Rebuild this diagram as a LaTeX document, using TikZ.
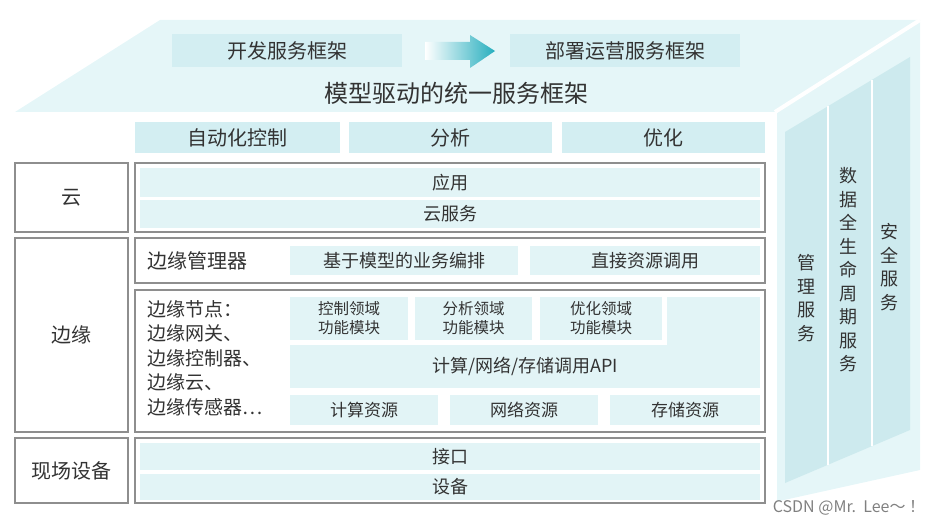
\documentclass[tikz,border=0pt]{standalone}
\usepackage{fontspec}
\setmainfont{Noto Sans CJK SC}
\usetikzlibrary{positioning}

\definecolor{cyanface}{HTML}{E5F6F8}
\definecolor{cyanbox}{HTML}{D3EEF2}
\definecolor{cyanband}{HTML}{E2F4F6}
\definecolor{cyanpanel}{HTML}{CDEAEE}
\definecolor{framegray}{HTML}{8E8E8E}
\definecolor{txtgray}{HTML}{333333}
\definecolor{arrowteal}{HTML}{26AEBE}

\tikzset{
  topbox/.style={fill=cyanbox, text=txtgray, inner sep=0pt, font=\fontsize{20}{24}\selectfont},
  layerbox/.style={draw=framegray, line width=1.3pt, fill=white, text=txtgray, inner sep=0pt, font=\fontsize{20}{24}\selectfont},
  framebox/.style={draw=framegray, line width=1.3pt, fill=white, inner sep=0pt},
  bandbox/.style={fill=cyanband, text=txtgray, inner sep=0pt, font=\fontsize{18}{21}\selectfont},
  modbox/.style={fill=cyanband, text=txtgray, inner sep=0pt, align=center, font=\fontsize{15.5}{19}\selectfont},
  vtext/.style={text=txtgray, align=center, inner sep=0pt, font=\fontsize{18}{23.5}\selectfont}
}

\begin{document}
\begin{tikzpicture}[x=1pt, y=-1pt]
    % Limites del dibujo
    \useasboundingbox (0,0) rectangle (948,524);

    % Cara superior del bloque
    \fill[cyanface] (160,20) -- (920,20) -- (775,112) -- (15,112) -- cycle;

    % Cara lateral derecha
    \fill[cyanface] (775,112) -- (920,20) -- (920,470) -- (775,502) -- cycle;
    \fill[cyanpanel] (785,132) -- (910,57) -- (910,430) -- (785,483) -- cycle;
    \coordinate (S1) at (828,106);
    \coordinate (S2) at (872,80);
    \draw[white, line width=1.5pt] (S1) -- (828,465);
    \draw[white, line width=1.5pt] (S2) -- (872,446);
    \draw[white, line width=4pt] (775,112) -- (920,20);
    \draw[white, line width=4pt] (775,112) -- (775,505);

    % Servicios verticales
    \node[vtext] (gl) at (806,298) {管\\理\\服\\务};
    \node[vtext] (sj) at (848,270) {数\\据\\全\\生\\命\\周\\期\\服\\务};
    \node[vtext] (aq) at (889,267) {安\\全\\服\\务};

    % Marcos de servicio en la cara superior
    \node[topbox, minimum width=230pt, minimum height=33pt] (kf) at (287,51) {开发服务框架};
    \node[topbox, minimum width=230pt, minimum height=33pt] (bs) at (625,51) {部署运营服务框架};
    \shade[left color=white, right color=arrowteal]
        (425,42) -- (470,42) -- (470,35) -- (495,51) -- (470,68) -- (470,60) -- (425,60) -- cycle;
    \node[text=txtgray, inner sep=0pt, font=\fontsize{24}{28}\selectfont] (mx) at (456,93) {模型驱动的统一服务框架};

    % Funciones
    \node[topbox, minimum width=205pt, minimum height=31pt] (zd) at (237.5,137.5) {自动化控制};
    \node[topbox, minimum width=203pt, minimum height=31pt] (fx) at (450.5,137.5) {分析};
    \node[topbox, minimum width=203pt, minimum height=31pt] (yh) at (663.5,137.5) {优化};

    % Capas a la izquierda
    \node[layerbox, minimum width=113pt, minimum height=69pt] (yun) at (71.5,197.5) {云};
    \node[layerbox, minimum width=113pt, minimum height=194pt] (by) at (71.5,335) {边缘};
    \node[layerbox, minimum width=113pt, minimum height=65pt] (xc) at (71.5,470.5) {现场设备};

    % Capa nube
    \node[framebox, minimum width=630pt, minimum height=69pt] (yunF) at (450,197.5) {};
    \node[bandbox, minimum width=620pt, minimum height=29pt] (yy) at (450,182.5) {应用};
    \node[bandbox, minimum width=620pt, minimum height=28pt] (yfw) at (450,214) {云服务};

    % Gestor de borde
    \node[framebox, minimum width=630pt, minimum height=45pt] (glF) at (450,260.5) {};
    \node[text=txtgray, inner sep=0pt, anchor=west, font=\fontsize{20}{24}\selectfont] (glq) at (147,260.5) {边缘管理器};
    \node[bandbox, minimum width=228pt, minimum height=29pt] (bp) at (404,260.5) {基于模型的业务编排};
    \node[bandbox, minimum width=230pt, minimum height=29pt] (zj) at (645,260.5) {直接资源调用};

    % Nodos de borde
    \node[framebox, minimum width=630pt, minimum height=142pt] (jdF) at (450,361) {};
    \node[text=txtgray, inner sep=0pt, anchor=north west, align=left, font=\fontsize{19}{24.5}\selectfont] (jd) at (147,300)
        {边缘节点：\\边缘网关、\\边缘控制器、\\边缘云、\\边缘传感器…};
    \node[modbox, minimum width=118pt, minimum height=43pt] (kz) at (349,318.5) {控制领域\\功能模块};
    \node[modbox, minimum width=117pt, minimum height=43pt] (fxm) at (473.5,318.5) {分析领域\\功能模块};
    \node[modbox, minimum width=122pt, minimum height=43pt] (yhm) at (601,318.5) {优化领域\\功能模块};
    \fill[cyanband] (667,297) rectangle (760,346);
    \node[bandbox, minimum width=470pt, minimum height=43pt] (api) at (525,366.5) {计算/网络/存储调用API};
    \node[bandbox, minimum width=148pt, minimum height=30pt, font=\fontsize{17}{20}\selectfont] (js) at (364,410) {计算资源};
    \node[bandbox, minimum width=148pt, minimum height=30pt, font=\fontsize{17}{20}\selectfont] (wl) at (524,410) {网络资源};
    \node[bandbox, minimum width=150pt, minimum height=30pt, font=\fontsize{17}{20}\selectfont] (cc) at (685,410) {存储资源};

    % Capa de campo
    \node[framebox, minimum width=630pt, minimum height=65pt] (xcF) at (450,470.5) {};
    \node[bandbox, minimum width=620pt, minimum height=27pt] (jk) at (450,456.5) {接口};
    \node[bandbox, minimum width=620pt, minimum height=26pt] (sb) at (450,487) {设备};

    % Marca de agua
    \node[text=gray, inner sep=0pt, font=\fontsize{16}{18}\selectfont] (wm) at (849,508) {CSDN @Mr.\ \ Lee～\ ！};
\end{tikzpicture}
\end{document}
